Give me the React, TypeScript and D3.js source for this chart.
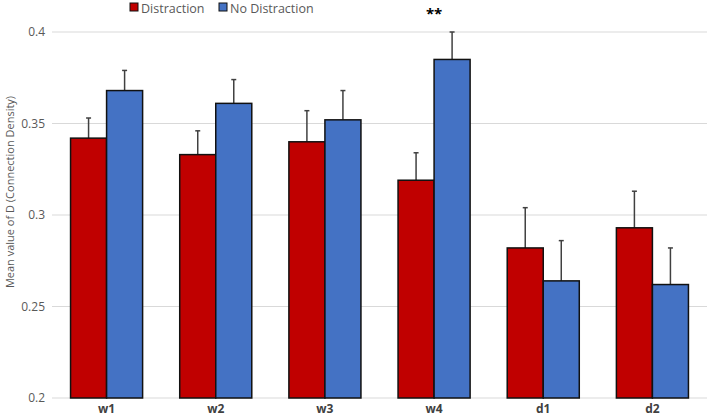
import React from "react";
import * as d3 from "d3";

const categories = ["w1", "w2", "w3", "w4", "d1", "d2"];
const seriesNames = ["Distraction", "No Distraction"];
const distraction = [0.342, 0.333, 0.340, 0.319, 0.282, 0.293];
const noDistraction = [0.368, 0.361, 0.352, 0.385, 0.264, 0.262];
const distractionErr = [0.011, 0.013, 0.017, 0.015, 0.022, 0.020];
const noDistractionErr = [0.011, 0.013, 0.016, 0.015, 0.022, 0.020];
const yTicks = [0.2, 0.25, 0.3, 0.35, 0.4];
const significance = ["", "", "", "**", "", ""];

const colors = ["#C00000", "#4472C4"];
const W = 709;
const H = 417;

export default function App() {
  const margin = { left: 52, right: 2, top: 32, bottom: 19 };
  const x = d3
    .scaleBand<string>()
    .domain(categories)
    .range([margin.left, W - margin.right])
    .paddingInner(0.34)
    .paddingOuter(0.17);
  const x1 = d3.scaleBand<string>().domain(seriesNames).range([0, x.bandwidth()]);
  const y = d3.scaleLinear().domain([0.2, 0.4]).range([H - margin.bottom, margin.top]);
  const series = [
    { name: seriesNames[0], values: distraction, err: distractionErr },
    { name: seriesNames[1], values: noDistraction, err: noDistractionErr },
  ];
  const font = "'Open Sans', 'Liberation Sans', sans-serif";
  return (
    <svg
      width={W}
      height={H}
      style={{ position: "absolute", left: 0, top: 0, background: "#fff" }}
      fontFamily={font}
    >
      {yTicks.map((t) => (
        <g key={t}>
          <line x1={margin.left} x2={W - margin.right} y1={y(t)} y2={y(t)} stroke="#D9D9D9" strokeWidth={1} />
          <text x={45} y={y(t)} dy="0.35em" textAnchor="end" fontSize={12} fill="#595959">
            {String(t)}
          </text>
        </g>
      ))}
      {series.map((s, si) =>
        categories.map((c, i) => {
          const bx = (x(c) as number) + (x1(s.name) as number);
          const bw = x1.bandwidth();
          const cx = bx + bw / 2;
          const top = y(s.values[i]);
          const et = y(s.values[i] + s.err[i]);
          return (
            <g key={s.name + c}>
              <line x1={cx} x2={cx} y1={top} y2={et} stroke="#404040" strokeWidth={1.5} />
              <line x1={cx - 2.5} x2={cx + 2.5} y1={et} y2={et} stroke="#404040" strokeWidth={1.5} />
              <rect
                x={bx}
                y={top}
                width={bw}
                height={y(0.2) - top}
                fill={colors[si]}
                stroke="#111"
                strokeWidth={1.5}
              />
            </g>
          );
        })
      )}
      {categories.map((c, i) => (
        <g key={"lab" + c}>
          <text
            x={(x(c) as number) + x.bandwidth() / 2}
            y={409}
            dy="0.35em"
            textAnchor="middle"
            fontSize={12}
            fontWeight="bold"
            fill="#404040"
          >
            {c}
          </text>
          {significance[i] && (
            <text
              x={(x(c) as number) + x.bandwidth() / 2}
              y={14}
              dy="0.35em"
              textAnchor="middle"
              fontSize={15}
              fontWeight="bold"
              fill="#000"
            >
              {significance[i]}
            </text>
          )}
        </g>
      ))}
      <text
        transform={`translate(10, 192) rotate(-90)`}
        textAnchor="middle"
        dy="0.35em"
        fontSize={11}
        fill="#595959"
      >
        Mean value of D (Connection Density)
      </text>
      <g>
        <rect x={130} y={3} width={8} height={8} fill={colors[0]} stroke="#111" strokeWidth={1} />
        <text x={141} y={13} fontSize={12.5} fill="#595959">
          {seriesNames[0]}
        </text>
        <rect x={219} y={3} width={8} height={8} fill={colors[1]} stroke="#111" strokeWidth={1} />
        <text x={230} y={13} fontSize={12.5} fill="#595959">
          {seriesNames[1]}
        </text>
      </g>
    </svg>
  );
}
